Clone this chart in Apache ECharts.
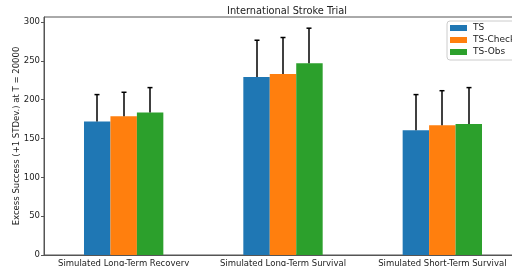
<!DOCTYPE html>
<html>
<head>
<meta charset="utf-8">
<script src="https://cdn.jsdelivr.net/npm/echarts@6/dist/echarts.min.js"></script>
<style>
html,body{margin:0;padding:0;background:#fff;}
#main{width:512px;height:266px;}
</style>
</head>
<body>
<div id="main"></div>
<script>
var categories = ['Simulated Long-Term Recovery', 'Simulated Long-Term Survival', 'Simulated Short-Term Survival'];
var seriesNames = ['TS', 'TS-Check', 'TS-Obs'];
var tsMean = [172, 229, 160.5];
var tsStd = [34.5, 47.5, 46];
var checkMean = [178.5, 233, 167];
var checkStd = [31, 47, 44.5];
var obsMean = [183.5, 247, 168.5];
var obsStd = [32, 45, 47];
var yTicks = [0, 50, 100, 150, 200, 250, 300];

var colors = ['#1f77b4', '#ff7f0e', '#2ca02c'];
var FONT = 'DejaVu Sans';
var barRatio = 0.166;

var means = [tsMean, checkMean, obsMean];
var stds = [tsStd, checkStd, obsStd];

// error bar rows: [category, series index, mean, mean+std]
var errData = [];
for (var k = 0; k < 3; k++) {
	for (var i = 0; i < categories.length; i++) {
		errData.push([i, k, means[k][i], means[k][i] + stds[k][i]]);
	}
}

function renderErr(params, api) {
	var cat = api.value(0), k = api.value(1);
	var band = api.size([1, 0])[0];
	var w = band * barRatio;
	var p0 = api.coord([cat, api.value(2)]);
	var p1 = api.coord([cat, api.value(3)]);
	var x = Math.round(p0[0] + (k - 1) * w);
	var st = {stroke: '#000', lineWidth: 1.5};
	return {
		type: 'group',
		children: [
			{type: 'line', shape: {x1: x, y1: p0[1], x2: x, y2: p1[1]}, style: st},
			{type: 'line', shape: {x1: x - 2.5, y1: p1[1], x2: x + 2.5, y2: p1[1]}, style: st}
		]
	};
}

var series = [];
for (var k = 0; k < 3; k++) {
	series.push({
		name: seriesNames[k],
		type: 'bar',
		barWidth: (barRatio * 100) + '%',
		barGap: '0%',
		itemStyle: {color: colors[k]},
		data: means[k]
	});
}
series.push({
	type: 'custom',
	renderItem: renderErr,
	encode: {x: 0, y: [2, 3]},
	z: 10,
	silent: true,
	data: errData
});

var myChart = echarts.init(document.getElementById('main'));
var option = {
	animation: false,
	textStyle: {fontFamily: FONT},
	title: {
		text: 'International Stroke Trial',
		left: 282,
		textAlign: 'center',
		top: 1,
		textStyle: {fontFamily: FONT, fontSize: 9.8, fontWeight: 'normal', color: '#222'}
	},
	legend: {
		orient: 'vertical',
		left: 447,
		top: 21,
		padding: [1, 5, 2, 3],
		itemWidth: 17,
		itemHeight: 6,
		itemGap: 0,
		borderColor: '#ccc',
		borderWidth: 1,
		borderRadius: 3,
		backgroundColor: '#fff',
		icon: 'rect',
		data: seriesNames,
		textStyle: {fontFamily: FONT, fontSize: 9, color: '#222', lineHeight: 12, padding: [0, 0, 0, 1]}
	},
	grid: {
		left: 44, top: 17, width: 478, height: 238,
		outerBoundsMode: 'none',
		containLabel: false,
		show: true, borderColor: '#555', borderWidth: 1, backgroundColor: 'transparent'
	},
	xAxis: {
		type: 'category',
		data: categories,
		axisLine: {lineStyle: {color: '#555', width: 1}},
		axisTick: {alignWithLabel: true, length: 3, lineStyle: {color: '#555'}},
		axisLabel: {fontFamily: FONT, fontSize: 8.5, color: '#222', margin: 4, interval: 0}
	},
	yAxis: {
		type: 'value',
		min: 0,
		max: 306.4,
		name: 'Excess Success (+1 STDev.) at T = 20000',
		nameLocation: 'middle',
		nameGap: 23,
		nameMoveOverlap: false,
		nameTextStyle: {fontFamily: FONT, fontSize: 8.5, color: '#222'},
		splitLine: {show: false},
		axisLine: {show: true, lineStyle: {color: '#555', width: 1}},
		axisTick: {show: true, length: 3, customValues: yTicks, lineStyle: {color: '#555'}},
		axisLabel: {fontFamily: FONT, fontSize: 8.5, color: '#222', margin: 4, customValues: yTicks}
	},
	series: series
};
myChart.setOption(option);
</script>
</body>
</html>
